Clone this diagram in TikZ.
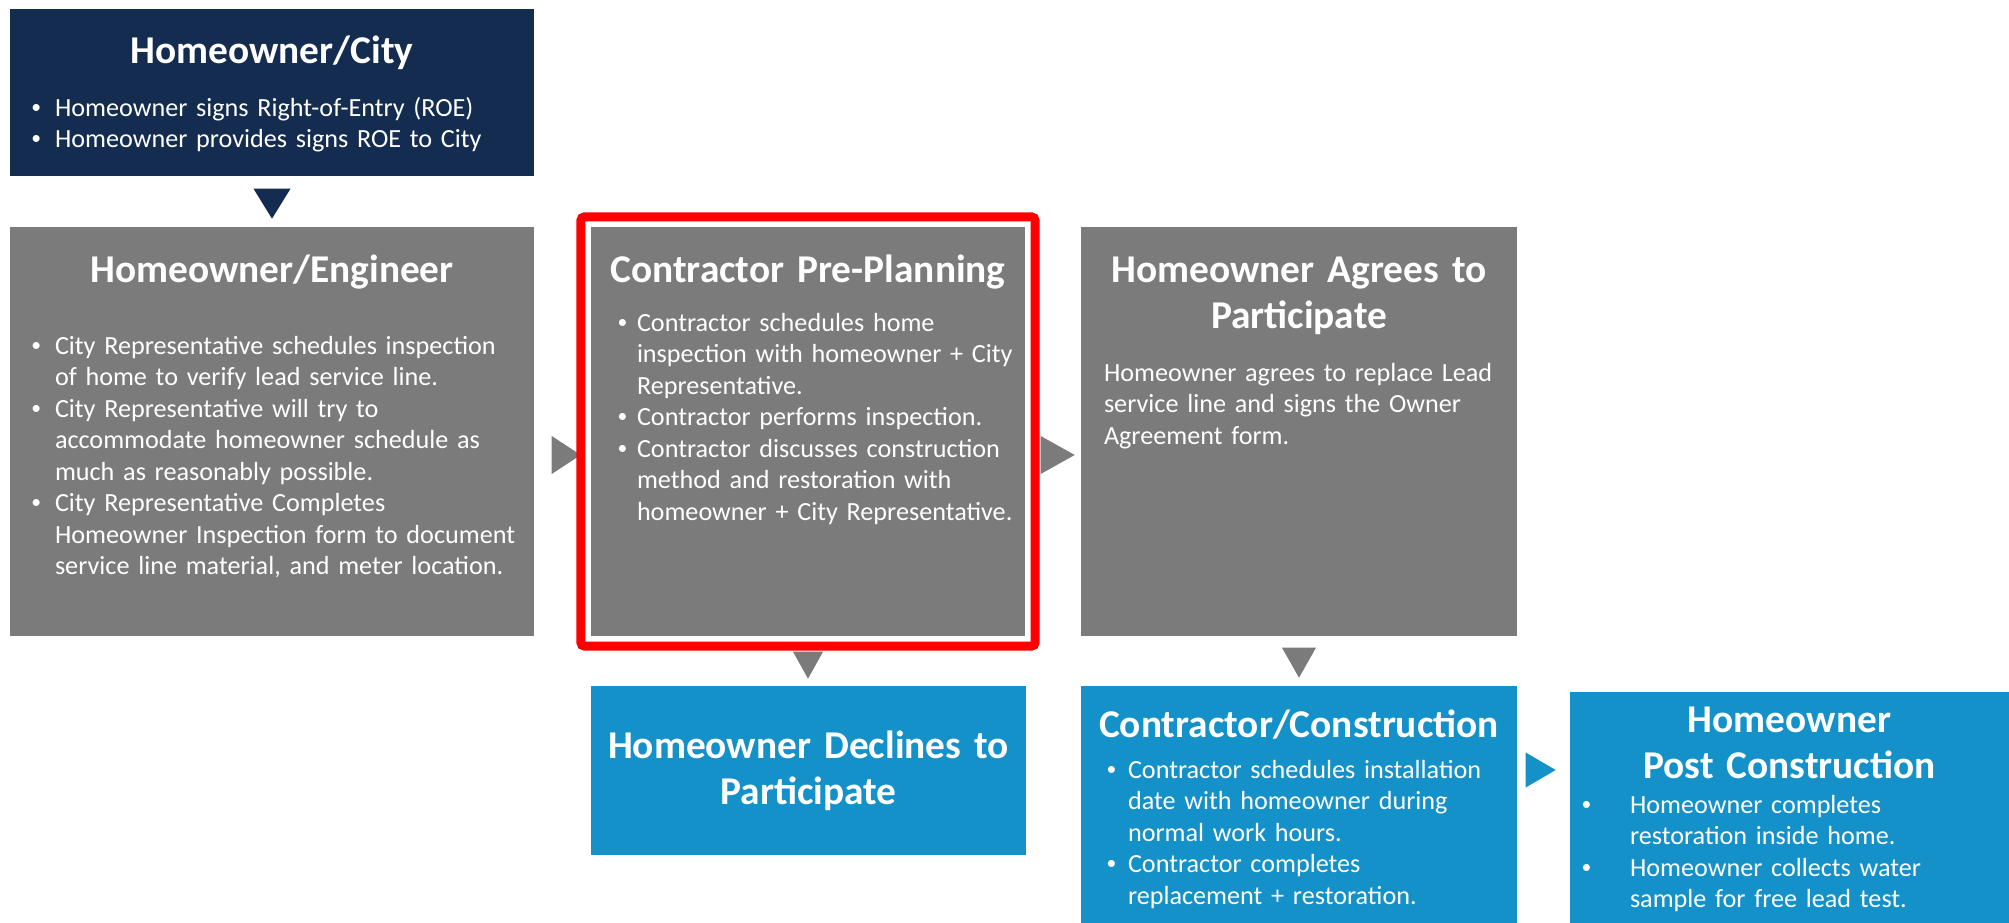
\documentclass[tikz,border=0pt]{standalone}
\usepackage{fontspec}
\setmainfont{Carlito}
\usetikzlibrary{calc,fit}
\definecolor{navy}{HTML}{132C50}
\definecolor{slate}{HTML}{7A7B7A}
\definecolor{sky}{HTML}{1591C9}
\newcommand\bl[1][2.5mm]{\makebox[#1][l]{\hspace*{0.15mm}\raisebox{0.25ex}{\fontsize{5.6pt}{5.6pt}\selectfont\textbullet}}}
\newcommand\ct[1][2.5mm]{\hspace*{#1}}
\tikzset{
	stage/.style={rectangle,inner sep=0pt,draw=none},
	head/.style={text=white,font=\fontsize{11.2pt}{13.2pt}\selectfont\bfseries,text width=#1,align=center,anchor=base,inner sep=0pt},
	body/.style={text=white,font=\fontsize{7.45pt}{8.96pt}\selectfont,text width=#1,align=left,anchor=base west,inner sep=0pt},
}
\begin{document}
\begin{tikzpicture}[x=0.1mm,y=-0.1mm]
			\useasboundingbox (0,0) rectangle (2009,923);
			% các khối
			\node[stage,fill=navy,fit={(10,9) (534,176)}] (city) {};
			\node[stage,fill=slate,fit={(10,227) (534,636)}] (eng) {};
			\node[stage,fill=slate,fit={(591,227) (1025,636)}] (pre) {};
			\node[stage,fill=slate,fit={(1081,227) (1517,636)}] (agree) {};
			\node[stage,fill=sky,fit={(591,686) (1026,855)}] (decline) {};
			\node[stage,fill=sky,fit={(1081,686) (1517,923)}] (build) {};
			\node[stage,fill=sky,fit={(1570,692) (2009,923)}] (post) {};
			% mũi tên tam giác
			\fill[navy] ($(city.south)+(-18.5,12)$) -- ++(37,0) -- ++(-18.5,30) -- cycle;
			\fill[slate] ($(eng.east)+(17,4.5)$) -- ++(0,38) -- ++(29,-19) -- cycle;
			\fill[slate] ($(pre.east)+(15,4.5)$) -- ++(0,38) -- ++(34,-19) -- cycle;
			\fill[slate] ($(pre.south)+(-15,15)$) -- ++(30,0) -- ++(-15,27) -- cycle;
			\fill[slate] ($(agree.south)+(-17,11)$) -- ++(34,0) -- ++(-17,30) -- cycle;
			\fill[sky] ($(build.east)+(8,-52)$) -- ++(0,35) -- ++(30,-17.5) -- cycle;
			\node[draw=red,line width=0.9mm,rounded corners=0.4mm,inner sep=0.95mm,fit=(pre)] (frame) {};
			% tiêu đề
			\node[head=50mm] at ($(city.north)+(0,55)$) {Homeowner/City};
			\node[head=50mm] at ($(eng.north)+(0,56)$) {Homeowner/Engineer};
			\node[head=43mm] at ($(pre.north)+(0,56)$) {Contractor Pre-Planning};
			\node[head=43mm] at ($(agree.north)+(0,56)$) {Homeowner Agrees to\\Participate};
			\node[head=43mm] at ($(decline.north)+(0,73)$) {Homeowner Declines to\\Participate};
			\node[head=43mm] at ($(build.north)+(0,52)$) {Contractor/Construction};
			\node[head=43mm] at ($(post.north)+(0,41)$) {Homeowner\\Post Construction};
			% nội dung
			\node[body=49mm] at ($(city.north west)+(20,108)$) {\bl Homeowner signs Right-of-Entry (ROE)\\
				\bl Homeowner provides signs ROE to City};
			\node[body=49mm] at ($(eng.north west)+(20,128)$) {\bl City Representative schedules inspection\\
				\ct of home to verify lead service line.\\
				\bl City Representative will try to\\
				\ct accommodate homeowner schedule as\\
				\ct much as reasonably possible.\\
				\bl City Representative Completes\\
				\ct Homeowner Inspection form to document\\
				\ct service line material, and meter location.};
			\node[body=41mm] at ($(pre.north west)+(25,105)$) {\bl[2.1mm]Contractor schedules home\\
				\ct[2.1mm]inspection with homeowner + City\\
				\ct[2.1mm]Representative.\\
				\bl[2.1mm]Contractor performs inspection.\\
				\bl[2.1mm]Contractor discusses construction\\
				\ct[2.1mm]method and restoration with\\
				\ct[2.1mm]homeowner + City Representative.};
			\node[body=41mm] at ($(agree.north west)+(23,155)$) {Homeowner agrees to replace Lead\\
				service line and signs the Owner\\
				Agreement form.};
			\node[body=41mm] at ($(build.north west)+(24,93)$) {\bl[2.3mm]Contractor schedules installation\\
				\ct[2.3mm]date with homeowner during\\
				\ct[2.3mm]normal work hours.\\
				\bl[2.3mm]Contractor completes\\
				\ct[2.3mm]replacement + restoration.};
			\node[body=42mm] at ($(post.north west)+(10,122)$) {\bl[5mm]Homeowner completes\\
				\ct[5mm]restoration inside home.\\
				\bl[5mm]Homeowner collects water\\
				\ct[5mm]sample for free lead test.};
		\end{tikzpicture}
\end{document}
